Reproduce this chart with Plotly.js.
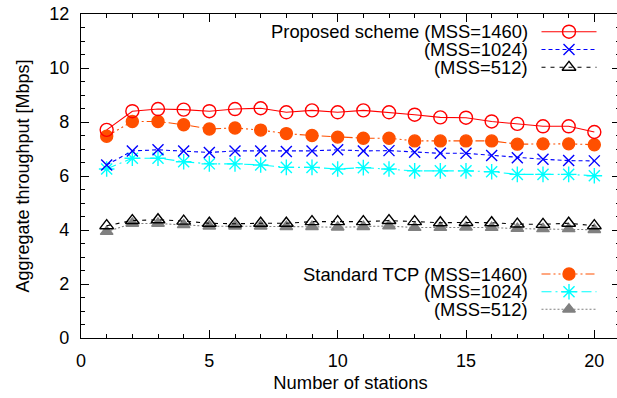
<!DOCTYPE html>
<html>
<head>
<meta charset="utf-8">
<script src="https://cdn.plot.ly/plotly-3.0.1.min.js"></script>
<style>
html,body{margin:0;padding:0;overflow:hidden;background:#fff;}
#chart{width:620px;height:398px;}
</style>
</head>
<body>
<div id="chart"></div>
<script>
// ---- data ----
const stations = [1,2,3,4,5,6,7,8,9,10,11,12,13,14,15,16,17,18,19,20];
const proposed1460 = [7.71,8.40,8.48,8.46,8.40,8.48,8.51,8.36,8.43,8.36,8.43,8.36,8.27,8.17,8.16,8.02,7.93,7.84,7.84,7.63];
const proposed1024 = [6.41,6.93,6.97,6.93,6.87,6.93,6.93,6.91,6.93,6.97,6.93,6.94,6.88,6.84,6.84,6.76,6.68,6.62,6.57,6.56];
const proposed512  = [4.16,4.35,4.38,4.33,4.25,4.23,4.25,4.25,4.31,4.31,4.31,4.35,4.31,4.27,4.28,4.27,4.22,4.21,4.25,4.16];
const standard1460 = [7.47,8.02,8.02,7.90,7.74,7.78,7.70,7.57,7.50,7.44,7.40,7.40,7.30,7.30,7.30,7.30,7.18,7.19,7.19,7.16];
const standard1024 = [6.26,6.66,6.66,6.53,6.45,6.45,6.41,6.32,6.32,6.26,6.31,6.26,6.19,6.19,6.19,6.16,6.06,6.06,6.06,6.01];
const standard512  = [3.94,4.24,4.24,4.19,4.14,4.14,4.14,4.12,4.12,4.10,4.12,4.15,4.09,4.09,4.10,4.09,4.05,4.04,4.04,4.01];

const seriesNames = ["Proposed scheme (MSS=1460)","(MSS=1024)","(MSS=512)",
                     "Standard TCP (MSS=1460)","(MSS=1024)","(MSS=512)"];
const xTitle = "Number of stations";
const yTitle = "Aggregate throughput [Mbps]";

// ---- styles ----
const FONT = "'Liberation Sans', Arial, Helvetica, sans-serif";
const styles = [
  {color:"#ff0000", dash:"solid",                 symbol:"circle-open",       size:13},
  {color:"#0000ff", dash:"4px,3px",               symbol:"x-thin-open",       size:11},
  {color:"#000000", dash:"4px,5px",               symbol:"triangle-up-open",  size:12},
  {color:"#ff5000", dash:"9px,3px,2px,3px,2px,3px", symbol:"circle",          size:12},
  {color:"#00ffff", dash:"10px,4px,2px,4px",      symbol:"asterisk-open",     size:13},
  {color:"#808080", dash:"2px,2px",               symbol:"triangle-up",       size:11}
];
const values = [proposed1460, proposed1024, proposed512, standard1460, standard1024, standard512];

const traces = [];
// draw back-to-front so the "proposed" curves are on top like the reference
const order = [5,4,3,2,1,0];
order.forEach(i => {
  const s = styles[i];
  traces.push({
    x: stations, y: values[i], type:"scatter", mode:"lines+markers",
    name: seriesNames[i], showlegend:false, cliponaxis:false,
    line:{color:s.color, width:1.1, dash:s.dash},
    marker:{symbol:s.symbol, size:s.size, color:s.color,
            line:{color:s.color, width:1.4}}
  });
});

// ---- legend keys (gnuplot style: text right-aligned, sample on the right) ----
// overlay axes x2/y2 are in pixel units of the plot area
const legendRows = [31.7, 49.5, 67.3, 274, 291.7, 309.3];
const keyX0 = 541.5, keyX1 = 596.5, keyXm = 569, textRight = 529;
const annotations = [];
legendRows.forEach((yy, i) => {
  const s = styles[i];
  traces.push({
    x:[keyX0, keyX1], y:[yy, yy], xaxis:"x2", yaxis:"y2", type:"scatter", mode:"lines",
    showlegend:false, hoverinfo:"skip", cliponaxis:false,
    line:{color:s.color, width:1.1, dash:s.dash}
  });
  traces.push({
    x:[keyXm], y:[yy], xaxis:"x2", yaxis:"y2", type:"scatter", mode:"markers",
    showlegend:false, hoverinfo:"skip", cliponaxis:false,
    marker:{symbol:s.symbol, size:s.size, color:s.color, line:{color:s.color, width:1.4}}
  });
  annotations.push({
    xref:"x2", yref:"y2", x:textRight, y:yy, xanchor:"right", yanchor:"middle",
    text:seriesNames[i], showarrow:false, borderpad:0,
    font:{family:FONT, size:18.4, color:"#000"}
  });
});

const axisCommon = {
  showgrid:false, zeroline:false, showline:true, linecolor:"#000", linewidth:1.2,
  mirror:"allticks", ticks:"inside", ticklen:8, tickwidth:1, tickcolor:"#000",
  tickfont:{family:FONT, size:18, color:"#000"}
};

const layout = {
  width:620, height:398,
  margin:{l:81, r:0, t:14, b:60},
  paper_bgcolor:"#fff", plot_bgcolor:"#fff",
  font:{family:FONT, size:18, color:"#000"},
  xaxis: Object.assign({}, axisCommon, {
    range:[0,21], tickmode:"linear", tick0:0, dtick:5,
    minor:{ticks:"inside", dtick:1, ticklen:4, tickcolor:"#000", tickwidth:1},
    ticklabelstandoff:6,
    title:{text:xTitle, font:{family:FONT, size:18.4, color:"#000"}, standoff:6}
  }),
  yaxis: Object.assign({}, axisCommon, {
    range:[0,12], tickmode:"linear", tick0:0, dtick:2,
    minor:{ticks:"inside", dtick:0.5, ticklen:4, tickcolor:"#000", tickwidth:1},
    ticklabelstandoff:7,
    title:{text:yTitle, font:{family:FONT, size:18, color:"#000"}, standoff:14}
  }),
  xaxis2:{overlaying:"x", range:[81,620], visible:false, fixedrange:true},
  yaxis2:{overlaying:"y", range:[338,14], visible:false, fixedrange:true},
  annotations: annotations,
  showlegend:false
};

Plotly.newPlot("chart", traces, layout, {staticPlot:true, displayModeBar:false});
</script>
</body>
</html>
